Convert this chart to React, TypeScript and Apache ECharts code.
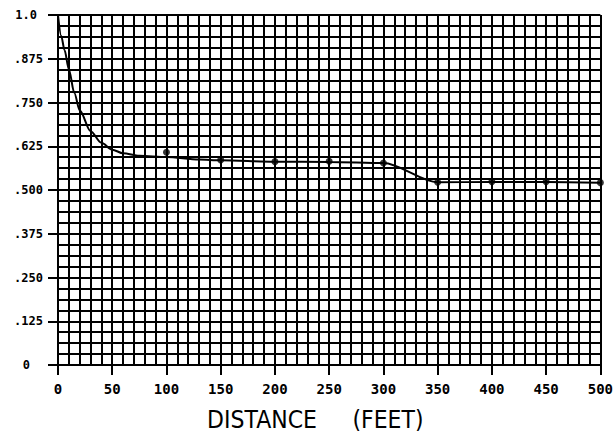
import React, { useEffect, useRef } from "react";
import * as echarts from "echarts";

// Smooth curve (distance in feet, ratio)
const curveX = [0, 3, 6, 10, 15, 20, 30, 40, 50, 60, 75, 100, 130, 150, 200, 250, 300, 350, 400, 450, 500];
const curveY = [1.0, 0.94, 0.9, 0.845, 0.778, 0.728, 0.668, 0.635, 0.615, 0.605, 0.598, 0.594, 0.587, 0.585, 0.581, 0.58, 0.577, 0.522, 0.523, 0.523, 0.521];

// Measured points (dots)
const dotX = [100, 150, 200, 250, 300, 350, 400, 450, 500];
const dotY = [0.608, 0.586, 0.581, 0.582, 0.577, 0.522, 0.524, 0.524, 0.521];

const yTickLabels = ["0", ".125", ".250", ".375", ".500", ".625", ".750", ".875", "1.0"];
const xTickLabels = ["0", "50", "100", "150", "200", "250", "300", "350", "400", "450", "500"];

export default function App() {
  const ref = useRef<HTMLDivElement>(null);
  useEffect(() => {
    if (!ref.current) return;
    const chart = echarts.init(ref.current, undefined, { renderer: "svg" });
    const black = "#000";
    chart.setOption({
      animation: false,
      backgroundColor: "#fff",
      grid: { left: 58, right: 14, top: 15, bottom: 72, containLabel: false },
      xAxis: {
        type: "value",
        min: 0,
        max: 500,
        interval: 50,
        axisLine: { show: true, onZero: false, lineStyle: { color: black, width: 2 } },
        axisTick: { show: true, length: 10, lineStyle: { color: black, width: 2 } },
        minorTick: { show: false, splitNumber: 5 },
        splitLine: { show: true, lineStyle: { color: black, width: 2 } },
        minorSplitLine: { show: true, lineStyle: { color: black, width: 2 } },
        axisLabel: {
          margin: 17,
          color: black,
          fontFamily: "DejaVu Sans Mono",
          fontWeight: "bold",
          fontSize: 14,
          formatter: (v: number) => xTickLabels[Math.round(v / 50)] ?? "",
        },
      },
      yAxis: {
        type: "value",
        min: 0,
        max: 1,
        interval: 0.125,
        axisLine: { show: true, onZero: false, lineStyle: { color: black, width: 2 } },
        axisTick: { show: true, length: 10, lineStyle: { color: black, width: 2 } },
        minorTick: { show: false, splitNumber: 4 },
        splitLine: { show: true, lineStyle: { color: black, width: 2 } },
        minorSplitLine: { show: true, lineStyle: { color: black, width: 2 } },
        axisLabel: {
          margin: 15,
          color: black,
          fontFamily: "DejaVu Sans Mono",
          fontWeight: "bold",
          fontSize: 12,
          formatter: (v: number) => {
            const i = Math.round(v / 0.125);
            const t = yTickLabels[i] ?? "";
            if (i === 0) return "{z|" + t + "}";
            if (i === 8) return "{o|" + t + "}";
            return t;
          },
          rich: {
            z: { padding: [0, 13, 0, 0], fontFamily: "DejaVu Sans Mono", fontWeight: "bold", fontSize: 12, color: black },
            o: { padding: [0, 6, 0, 0], fontFamily: "DejaVu Sans Mono", fontWeight: "bold", fontSize: 12, color: black },
          },
        },
      },
      graphic: [
        {
          type: "text",
          x: 262,
          y: 420,
          scaleY: 1.1,
          style: {
            text: "DISTANCE",
            fill: black,
            font: "normal 22px 'DejaVu Sans'",
            textAlign: "center",
            textVerticalAlign: "middle",
          },
        },
        {
          type: "text",
          x: 388,
          y: 420,
          scaleY: 1.1,
          style: {
            text: "(FEET)",
            fill: black,
            font: "normal 22px 'DejaVu Sans'",
            textAlign: "center",
            textVerticalAlign: "middle",
          },
        },
      ],
      series: [
        {
          type: "line",
          data: curveX.map((x, i) => [x, curveY[i]]),
          smooth: 0.3,
          smoothMonotone: "x",
          showSymbol: false,
          lineStyle: { color: black, width: 2 },
          z: 5,
        },
        {
          type: "scatter",
          data: dotX.map((x, i) => [x, dotY[i]]),
          symbol: "circle",
          symbolSize: 7,
          itemStyle: { color: black },
          z: 6,
        },
      ],
    });
    return () => chart.dispose();
  }, []);
  return <div ref={ref} style={{ width: 616, height: 437, position: "absolute", left: 0, top: 0 }} />;
}
